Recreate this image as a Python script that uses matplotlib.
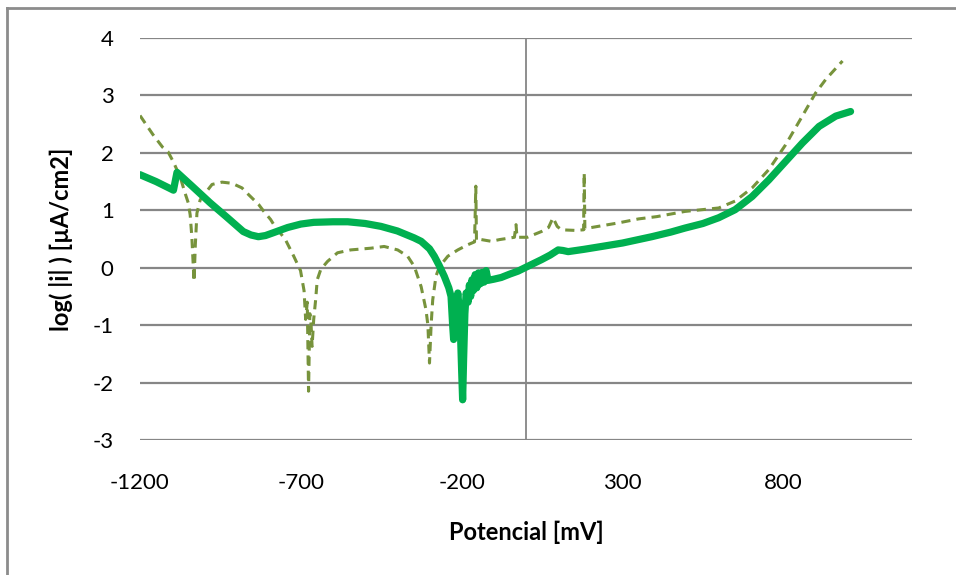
import matplotlib
matplotlib.use('Agg')
import matplotlib.pyplot as plt
from matplotlib.lines import Line2D

# solid curve (bright green)
sol_mv = [-1200, -1150, -1096, -1085, -1040, -982, -930, -879, -855, -832, -810, -785,
          -741, -700, -660, -600, -554, -500, -451, -400, -348, -326, -300, -285, -270,
          -254, -240, -233, -228, -225, -220, -212, -205, -200, -197, -194, -190, -186,
          -180, -176, -172, -168, -164, -158, -153, -148, -142, -136, -130, -124, -118,
          -100, -77, -50, -25, 4, 48, 75, 100, 115, 131, 180, 235, 300, 391, 450, 494,
          550, 599, 650, 703, 755, 807, 859, 911, 963, 1009]
sol_log = [1.62, 1.50, 1.35, 1.66, 1.43, 1.13, 0.88, 0.63, 0.57, 0.54, 0.56, 0.61,
           0.70, 0.76, 0.79, 0.80, 0.80, 0.77, 0.72, 0.64, 0.52, 0.46, 0.33, 0.20, 0.04,
           -0.15, -0.35, -0.50, -1.00, -1.25, -0.90, -0.44, -0.90, -1.80, -2.30, -1.60, -0.80, -0.44,
           -0.60, -0.30, -0.50, -0.21, -0.40, -0.12, -0.35, -0.09, -0.28, -0.08, -0.25, -0.05, -0.22,
           -0.20, -0.17, -0.11, -0.06, 0.02, 0.14, 0.22, 0.31, 0.30, 0.28, 0.32, 0.37, 0.43, 0.54, 0.62, 0.69,
           0.77, 0.87, 1.01, 1.24, 1.53, 1.85, 2.17, 2.46, 2.64, 2.72]

# dashed curve (olive)
das_mv = [-1200, -1160, -1130, -1113, -1097, -1075, -1060, -1050, -1044, -1039, -1035, -1032,
          -1028, -1023, -1013, -997, -976, -945, -914, -883, -862, -831, -815, -794, -784,
          -748, -722, -701, -690, -685, -680, -676, -672, -668, -665, -660, -654, -649,
          -638, -617, -586, -545, -482, -441, -399, -368, -347, -326, -311, -305, -300,
          -295, -290, -280, -269, -243, -212, -181, -160, -156, -154, -139, -108, -82,
          -36, -31, -28, 4, 48, 70, 84, 97, 110, 152, 179, 181, 183, 214, 287, 350, 407,
          494, 599, 650, 703, 755, 807, 859, 900, 932, 984]
das_log = [2.65, 2.32, 2.10, 2.02, 1.85, 1.58, 1.30, 1.13, 0.92, 0.55, 0.10, -0.24,
           0.40, 0.95, 1.18, 1.30, 1.45, 1.49, 1.47, 1.39, 1.27, 1.10, 0.98, 0.84, 0.75,
           0.49, 0.20, -0.05, -0.40, -0.90, -0.60, -2.15, -0.80, -1.00, -1.37, -0.90, -0.56, -0.21,
           -0.03, 0.11, 0.26, 0.31, 0.34, 0.37, 0.31, 0.20, 0.02, -0.33, -0.73, -1.00, -1.66,
           -1.00, -0.56, -0.15, 0.02, 0.20, 0.31, 0.40, 0.45, 1.42, 0.47, 0.49, 0.46, 0.49,
           0.53, 0.75, 0.53, 0.53, 0.63, 0.70, 0.87, 0.72, 0.66, 0.65, 0.66, 1.65, 0.68, 0.71, 0.78, 0.85, 0.89,
           0.98, 1.04, 1.16, 1.39, 1.71, 2.14, 2.64, 3.04, 3.28, 3.60]

x_ticks = [-1200, -700, -200, 300, 800]
y_ticks = [-3, -2, -1, 0, 1, 2, 3, 4]

plt.rcParams['font.family'] = ['Lato', 'DejaVu Sans']
plt.rcParams['axes.unicode_minus'] = False
grid_col = '#868686'

fig = plt.figure(figsize=(9.56, 5.75), dpi=100)
ax = fig.add_axes([140/956, 135/575, 772/956, 402/575])

for y in y_ticks:
    ax.axhline(y, color=grid_col, lw=1.6, zorder=1)
ax.axvline(0, color=grid_col, lw=1.3, zorder=1)

ax.plot(das_mv, das_log, color='#77933C', lw=2.2, dashes=(3.0, 2.0), zorder=3)
ax.plot(sol_mv, sol_log, color='#00B050', lw=5.2, solid_capstyle='round',
        solid_joinstyle='round', zorder=4)

ax.set_xlim(-1200, 1200)
ax.set_ylim(-3, 4)
ax.set_xticks(x_ticks)
ax.set_yticks(y_ticks)
ax.tick_params(length=0, labelsize=16, colors='black')
ax.tick_params(axis='y', pad=19)
ax.tick_params(axis='x', pad=24)
for s in ax.spines.values():
    s.set_visible(False)

ax.set_xlabel('Potencial [mV]', fontsize=17, fontweight='bold', labelpad=20)
ax.set_ylabel('log( |i| ) [µA/cm2]', fontsize=17, fontweight='bold', labelpad=14)

# outer frame (top and left edges visible in the crop)
fig.add_artist(Line2D([7/956, 7/956], [0, 1 - 8/575], transform=fig.transFigure,
                      color='#8c8c8c', lw=2))
fig.add_artist(Line2D([7/956, 1], [1 - 8/575, 1 - 8/575], transform=fig.transFigure,
                      color='#8c8c8c', lw=2))

fig.savefig('out.png', dpi=100)
